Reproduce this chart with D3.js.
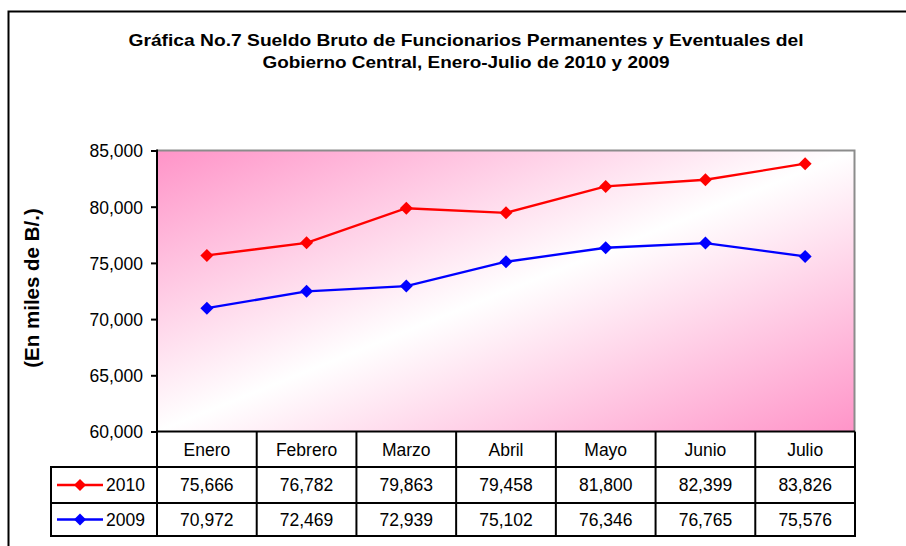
<!DOCTYPE html>
<html>
<head>
<meta charset="utf-8">
<script src="https://cdn.jsdelivr.net/npm/d3@7"></script>
<style>
  html, body { margin: 0; padding: 0; background: #fff; }
  svg { display: block; }
  text { font-family: "Liberation Sans", Arial, sans-serif; fill: #000; }
</style>
</head>
<body>
<svg id="chart" width="906" height="546"></svg>
<script>
// ---- data ----
const months = ["Enero", "Febrero", "Marzo", "Abril", "Mayo", "Junio", "Julio"];
const values2010 = [75666, 76782, 79863, 79458, 81800, 82399, 83826];
const values2009 = [70972, 72469, 72939, 75102, 76346, 76765, 75576];
const seriesNames = ["2010", "2009"];
const seriesColors = ["#ff0000", "#0000ff"];
const yTicks = [60000, 65000, 70000, 75000, 80000, 85000];
const titleLines = [
  "Gráfica No.7 Sueldo Bruto de Funcionarios Permanentes y Eventuales del",
  "Gobierno Central, Enero-Julio de 2010 y 2009"
];
const titleWidths = [675, 407];
const yTitle = "(En miles de B/.)";

// ---- layout ----
const W = 906, H = 546;
const plot = { left: 157, right: 855, top: 150.5, bottom: 431.5 };
const rowH = [35.5, 36, 33];
const legendLeft = 51;

const svg = d3.select("#chart");

// outer chart border (top + left)
svg.append("path")
  .attr("d", `M8.5,${H} L8.5,11.5 L${W},11.5`)
  .attr("fill", "none").attr("stroke", "#000").attr("stroke-width", 2);

// title
svg.append("g").selectAll("text").data(titleLines).join("text")
  .attr("x", 466).attr("y", (d, i) => 45.8 + i * 22.6)
  .attr("text-anchor", "middle")
  .attr("font-weight", "bold").attr("font-size", 17)
  .attr("textLength", (d, i) => titleWidths[i])
  .attr("lengthAdjust", "spacingAndGlyphs")
  .text(d => d);

// scales
const x = d3.scaleBand().domain(months).range([plot.left, plot.right]);
const y = d3.scaleLinear().domain([60000, 85000]).range([plot.bottom, plot.top]);

// gradient background
const defs = svg.append("defs");
const grad = defs.append("linearGradient").attr("id", "bg")
  .attr("x1", 0).attr("y1", 0).attr("x2", 1).attr("y2", 1);
grad.append("stop").attr("offset", 0).attr("stop-color", "#ff94c8");
grad.append("stop").attr("offset", 0.5).attr("stop-color", "#ffffff");
grad.append("stop").attr("offset", 1).attr("stop-color", "#ff94c8");

svg.append("rect")
  .attr("x", plot.left).attr("y", plot.top)
  .attr("width", plot.right - plot.left).attr("height", plot.bottom - plot.top)
  .attr("fill", "url(#bg)");

// plot border top/right gray
svg.append("path")
  .attr("d", `M${plot.left},${plot.top} L${plot.right - 0.5},${plot.top} L${plot.right - 0.5},${plot.bottom}`)
  .attr("fill", "none").attr("stroke", "#8c8c8c").attr("stroke-width", 2);

// y axis
const yAxis = svg.append("g")
  .attr("transform", `translate(${plot.left},0)`)
  .call(d3.axisLeft(y).tickValues(yTicks).tickFormat(d3.format(",")).tickSize(6).tickPadding(8));
yAxis.select(".domain").attr("stroke", "#000").attr("stroke-width", 2)
  .attr("d", `M0,${plot.bottom}V${plot.top - 1}`);
yAxis.selectAll(".tick line").attr("stroke", "#000").attr("stroke-width", 2);
yAxis.selectAll(".tick text")
  .attr("font-size", 17.5).attr("font-family", "'Liberation Sans', Arial, sans-serif")
  .attr("fill", "#000").attr("dy", "0.36em");

// y title
svg.append("text")
  .attr("transform", "translate(39,288) rotate(-90)")
  .attr("text-anchor", "middle")
  .attr("font-weight", "bold").attr("font-size", 20.5)
  .text(yTitle);

// lines and markers
const series = [values2010, values2009];
const line = d3.line().x((d, i) => x(months[i]) + x.bandwidth() / 2).y(d => y(d));
const diamond = r => `M0,${-r}L${r},0L0,${r}L${-r},0Z`;

series.forEach((vals, s) => {
  svg.append("path").datum(vals)
    .attr("d", line)
    .attr("fill", "none").attr("stroke", seriesColors[s]).attr("stroke-width", 2.3);
  svg.append("g").selectAll("path").data(vals).join("path")
    .attr("transform", (d, i) => `translate(${x(months[i]) + x.bandwidth() / 2},${y(d)})`)
    .attr("d", diamond(6.5))
    .attr("fill", seriesColors[s]);
});

// data table
const rowTop = [plot.bottom, plot.bottom + rowH[0], plot.bottom + rowH[0] + rowH[1]];
const tableBottom = rowTop[2] + rowH[2];
const tg = svg.append("g").attr("stroke", "#000").attr("stroke-width", 2).attr("fill", "none");

// horizontal lines
tg.append("line").attr("x1", plot.left - 1).attr("x2", plot.right).attr("y1", plot.bottom).attr("y2", plot.bottom);
[rowTop[1], rowTop[2], tableBottom].forEach(yy => {
  tg.append("line").attr("x1", legendLeft).attr("x2", plot.right).attr("y1", yy).attr("y2", yy);
});
// vertical lines
months.forEach(m => {
  tg.append("line").attr("x1", x(m)).attr("x2", x(m)).attr("y1", plot.bottom).attr("y2", tableBottom);
});
tg.append("line").attr("x1", plot.right).attr("x2", plot.right).attr("y1", plot.bottom).attr("y2", tableBottom + 1);
tg.append("line").attr("x1", legendLeft).attr("x2", legendLeft).attr("y1", rowTop[1] - 1).attr("y2", tableBottom + 1);

// header text
svg.append("g").selectAll("text").data(months).join("text")
  .attr("x", d => x(d) + x.bandwidth() / 2)
  .attr("y", rowTop[0] + rowH[0] / 2)
  .attr("dy", "0.36em")
  .attr("text-anchor", "middle").attr("font-size", 17.5)
  .text(d => d);

// value rows
const fmt = d3.format(",");
series.forEach((vals, s) => {
  const cy = rowTop[s + 1] + rowH[s + 1] / 2;
  svg.append("g").selectAll("text").data(vals).join("text")
    .attr("x", (d, i) => x(months[i]) + x.bandwidth() / 2)
    .attr("y", cy).attr("dy", "0.36em")
    .attr("text-anchor", "middle").attr("font-size", 17.5)
    .text(d => fmt(d));
  // legend key
  svg.append("line")
    .attr("x1", 57).attr("x2", 103).attr("y1", cy).attr("y2", cy)
    .attr("stroke", seriesColors[s]).attr("stroke-width", 2.3);
  svg.append("path")
    .attr("transform", `translate(80,${cy})`)
    .attr("d", diamond(6))
    .attr("fill", seriesColors[s]);
  svg.append("text")
    .attr("x", 106).attr("y", cy).attr("dy", "0.36em")
    .attr("font-size", 17.5)
    .text(seriesNames[s]);
});
</script>
</body>
</html>
